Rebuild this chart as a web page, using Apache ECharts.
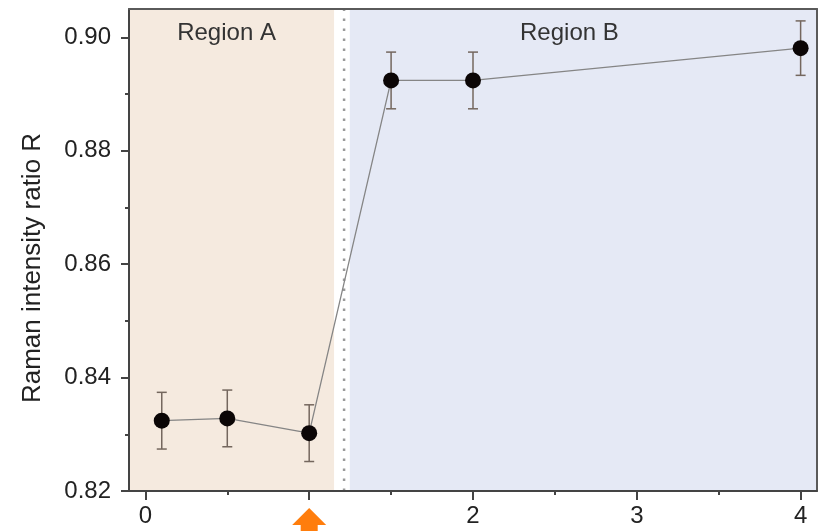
<!DOCTYPE html>
<html>
<head>
<meta charset="utf-8">
<script src="https://cdn.jsdelivr.net/npm/echarts@6/dist/echarts.min.js"></script>
<style>
  html, body { margin: 0; padding: 0; background: #ffffff; }
  #chart { width: 818px; height: 531px; }
</style>
</head>
<body>
<div id="chart"></div>
<script>
// Raman intensity ratio R measured at each position, with error bars
const positions = [0.1, 0.5, 1.0, 1.5, 2.0, 4.0];
const ratioR = [0.8324, 0.8328, 0.8302, 0.8924, 0.8924, 0.8981];
const ratioErr = [0.0050, 0.0050, 0.0050, 0.0050, 0.0050, 0.0048];

// Axis ranges and ticks
const xRange = [-0.1, 4.1];
const yRange = [0.82, 0.905];
const xMajorTicks = [0, 1, 2, 3, 4];
const xTickLabels = [0, 2, 3, 4];          // position 1 is flagged by the arrow instead
const xMinorTicks = [0.5, 1.5, 2.5, 3.5];
const yMajorTicks = [0.82, 0.84, 0.86, 0.88, 0.90];
const yMinorTicks = [0.83, 0.85, 0.87, 0.89];

// Shaded regions and the boundary between them
const regionNames = ['Region A', 'Region B'];
const regionSpans = [[-0.1, 1.152], [1.248, 4.1]];
const boundaryX = 1.213;
const arrowX = 1;

const FONT = "'Liberation Sans', Arial, Helvetica, sans-serif";
const chart = echarts.init(document.getElementById('chart'), null, { renderer: 'canvas' });

const lineData = positions.map((x, i) => [x, ratioR[i]]);
const errData = positions.map((x, i) => [x, ratioR[i] - ratioErr[i], ratioR[i] + ratioErr[i]]);

const regionColors = ['#f5eadf', '#e5e9f5'];
const regionOffsets = [[-5, 0], [-14, 0]];

// a bare axis used only to draw the top and right frame lines
function frameAxis(position) {
  return {
    type: 'value', z: 10, min: position === 'top' ? xRange[0] : yRange[0],
    max: position === 'top' ? xRange[1] : yRange[1], position: position,
    axisLine: { show: true, onZero: false, lineStyle: { color: '#5a5a5a', width: 2 } },
    axisTick: { show: false }, axisLabel: { show: false }, splitLine: { show: false }
  };
}

const option = {
  animation: false,
  backgroundColor: '#ffffff',
  grid: { left: 129, top: 9, width: 688, height: 482, show: false },
  xAxis: [
    {
      type: 'value', z: 10, min: xRange[0], max: xRange[1], position: 'bottom',
      axisLine: { show: true, onZero: false, lineStyle: { color: '#444', width: 2 } },
      axisTick: { show: true, customValues: xMajorTicks, length: 9, lineStyle: { color: '#444', width: 2 } },
      axisLabel: { show: true, customValues: xTickLabels, margin: 13, fontSize: 24, color: '#222', fontFamily: FONT },
      splitLine: { show: false }
    },
    {
      type: 'value', z: 10, min: xRange[0], max: xRange[1], position: 'bottom',
      axisLine: { show: false, onZero: false },
      axisTick: { show: true, customValues: xMinorTicks, length: 4, lineStyle: { color: '#444', width: 2 } },
      axisLabel: { show: false },
      splitLine: { show: false }
    },
    frameAxis('top')
  ],
  yAxis: [
    {
      type: 'value', z: 10, min: yRange[0], max: yRange[1], position: 'left',
      axisLine: { show: true, onZero: false, lineStyle: { color: '#444', width: 2 } },
      axisTick: { show: true, customValues: yMajorTicks, length: 8, lineStyle: { color: '#444', width: 2 } },
      axisLabel: {
        show: true, customValues: yMajorTicks, margin: 18, fontSize: 24, color: '#222', fontFamily: FONT,
        formatter: v => v.toFixed(2)
      },
      splitLine: { show: false }
    },
    {
      type: 'value', z: 10, min: yRange[0], max: yRange[1], position: 'left',
      axisLine: { show: false, onZero: false },
      axisTick: { show: true, customValues: yMinorTicks, length: 4, lineStyle: { color: '#444', width: 2 } },
      axisLabel: { show: false },
      splitLine: { show: false }
    },
    frameAxis('right')
  ],
  series: [
    {
      // background regions
      type: 'line', z: 1, data: [], silent: true,
      markArea: {
        silent: true,
        data: regionSpans.map((span, i) => [
          {
            xAxis: span[0], name: regionNames[i],
            itemStyle: { color: regionColors[i] },
            label: {
              show: true, position: 'insideTop', distance: 12, offset: regionOffsets[i],
              fontSize: 24, color: '#333', fontFamily: FONT
            }
          },
          { xAxis: span[1] }
        ])
      }
    },
    {
      // dotted boundary between the regions, spanning the full y range
      type: 'line', z: 2, silent: true, symbol: 'none',
      data: [[boundaryX, yRange[0]], [boundaryX, yRange[1]]],
      lineStyle: { color: '#9a9a9a', width: 2.5, type: [2.5, 7.5], cap: 'butt' }
    },
    {
      // error bars
      type: 'custom', z: 3,
      data: errData,
      encode: { x: 0, y: [1, 2] },
      renderItem: function (params, api) {
        const x = api.value(0);
        const lo = api.coord([x, api.value(1)]);
        const hi = api.coord([x, api.value(2)]);
        const cap = 5;
        const style = { stroke: '#74675e', lineWidth: 1.5 };
        return {
          type: 'group',
          children: [
            { type: 'line', shape: { x1: lo[0], y1: lo[1], x2: hi[0], y2: hi[1] }, style },
            { type: 'line', shape: { x1: lo[0] - cap, y1: lo[1], x2: lo[0] + cap, y2: lo[1] }, style },
            { type: 'line', shape: { x1: hi[0] - cap, y1: hi[1], x2: hi[0] + cap, y2: hi[1] }, style }
          ]
        };
      }
    },
    {
      type: 'line', z: 4,
      data: lineData,
      symbol: 'circle', symbolSize: 16,
      itemStyle: { color: '#0b0606' },
      lineStyle: { color: '#858585', width: 1.3 }
    }
  ],
  graphic: []
};

chart.setOption(option);

// Orange arrow below the x axis marking position 1
const ax = chart.convertToPixel({ xAxisIndex: 0 }, arrowX);
const tipY = 508, baseY = 525, half = 17, stem = 8.5;
chart.setOption({
  graphic: [
    {
      type: 'polygon', z: 100,
      shape: {
        points: [
          [ax, tipY], [ax + half, baseY], [ax + stem, baseY], [ax + stem, 540],
          [ax - stem, 540], [ax - stem, baseY], [ax - half, baseY]
        ]
      },
      style: { fill: '#ff7d0c' }
    },
    {
      type: 'text', z: 100,
      x: 33, y: 268, rotation: Math.PI / 2,
      style: {
        text: 'Raman intensity ratio R', fontSize: 26, fill: '#222', fontFamily: FONT,
        align: 'center', verticalAlign: 'middle'
      }
    }
  ]
});
</script>
</body>
</html>
